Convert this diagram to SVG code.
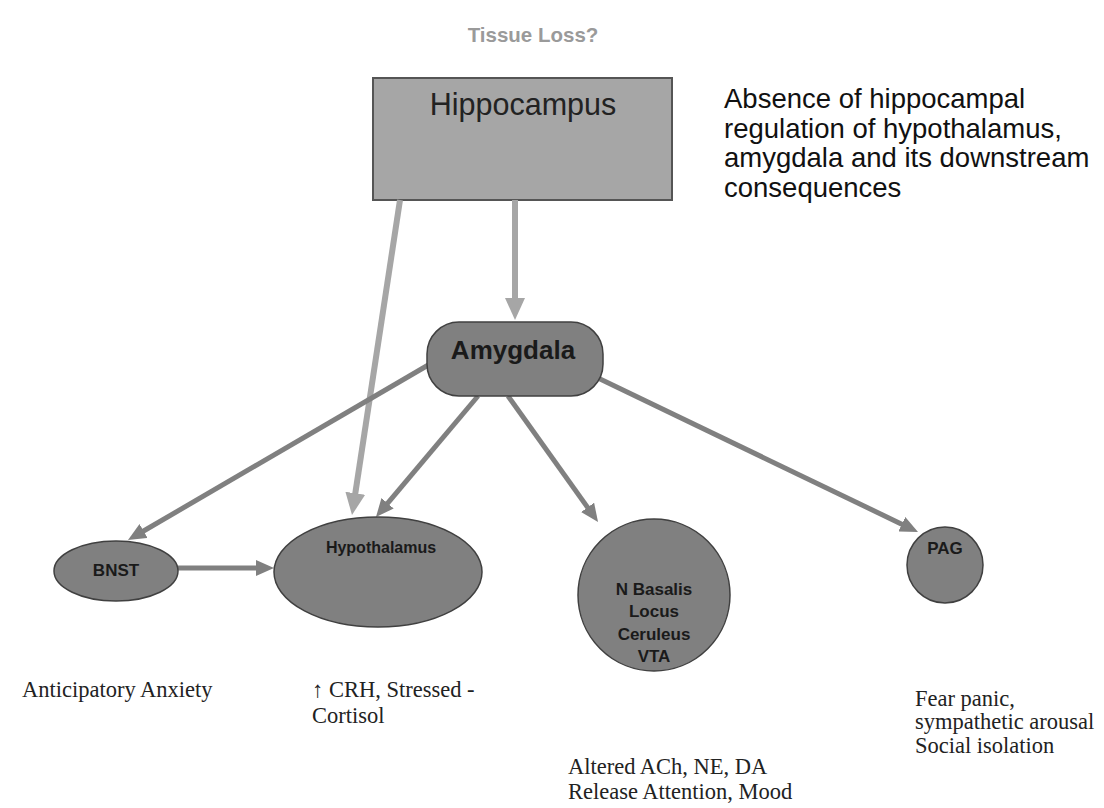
<svg xmlns="http://www.w3.org/2000/svg" width="1104" height="808" viewBox="0 0 1104 808">
<style>
.node{fill:#808080;stroke:#404040;stroke-width:1.5}
.lbl{font-family:"Liberation Sans",Arial,sans-serif;font-weight:bold;fill:#1a1a1a;text-anchor:middle}
.ser{font-family:"Liberation Serif","Times New Roman",serif;font-size:22.5px;fill:#222}
.dark{stroke:#808080;stroke-width:5;fill:none;marker-end:url(#ad)}
.light{stroke:#a6a6a6;stroke-width:6;fill:none;marker-end:url(#al)}
</style>
<defs>
<marker id="ad" markerUnits="userSpaceOnUse" markerWidth="18" markerHeight="16" refX="4" refY="8" orient="auto">
<path d="M0,0 L18,8 L0,16 z" fill="#808080"/>
</marker>
<marker id="al" markerUnits="userSpaceOnUse" markerWidth="22" markerHeight="20" refX="4" refY="10" orient="auto">
<path d="M0,0 L22,10 L0,20 z" fill="#a6a6a6"/>
</marker>
</defs>
<rect width="1104" height="808" fill="#fff"/>
<text x="533" y="42" font-family="Liberation Sans,Arial,sans-serif" font-weight="bold" font-size="20.5" fill="#9a9a9a" text-anchor="middle">Tissue Loss?</text>
<g id="hippocampus">
<rect x="373" y="78" width="299" height="122" fill="#a6a6a6" stroke="#555" stroke-width="2"/>
<text x="523" y="115" font-family="Liberation Sans,Arial,sans-serif" font-size="30.5" fill="#222" text-anchor="middle">Hippocampus</text>
</g>
<g id="note" font-family="Liberation Sans,Arial,sans-serif" font-size="27.5" fill="#111">
<text x="724" y="108">Absence of hippocampal</text>
<text x="724" y="138">regulation of hypothalamus,</text>
<text x="724" y="167">amygdala and its downstream</text>
<text x="724" y="197">consequences</text>
</g>
<g id="connectors">
<line class="light" x1="515" y1="200" x2="515" y2="302"/>
<line class="light" x1="400" y1="200" x2="354.7" y2="497.2"/>
<line class="dark" x1="430" y1="364" x2="140.1" y2="533"/>
<line class="dark" x1="478" y1="396" x2="385" y2="506.3"/>
<line class="dark" x1="508" y1="396" x2="589.9" y2="510.6"/>
<line class="dark" x1="598" y1="378" x2="905.4" y2="525.9"/>
<line class="dark" x1="178" y1="568" x2="260" y2="568"/>
</g>
<g id="amygdala">
<rect class="node" x="427" y="322" width="176" height="74" rx="32" ry="32"/>
<text class="lbl" x="513" y="359" font-size="26">Amygdala</text>
</g>
<g id="bnst">
<ellipse class="node" cx="116" cy="571" rx="62" ry="30"/>
<text class="lbl" x="116" y="576" font-size="17">BNST</text>
</g>
<g id="hypothalamus">
<ellipse class="node" cx="378" cy="572" rx="104" ry="55"/>
<text class="lbl" x="381" y="553" font-size="16">Hypothalamus</text>
</g>
<g id="nbasalis">
<circle class="node" cx="654" cy="595" r="76"/>
<text class="lbl" font-size="17"><tspan x="654" y="595">N Basalis</tspan><tspan x="654" y="617">Locus</tspan><tspan x="654" y="640">Ceruleus</tspan><tspan x="654" y="662">VTA</tspan></text>
</g>
<g id="pag">
<circle class="node" cx="945" cy="565" r="38"/>
<text class="lbl" x="945" y="554" font-size="17">PAG</text>
</g>
<g id="labels">
<text class="ser" x="22" y="697">Anticipatory Anxiety</text>
<text class="ser" x="312" y="697">↑ CRH, Stressed -</text>
<text class="ser" x="312" y="723">Cortisol</text>
<text class="ser" x="568" y="774">Altered ACh, NE, DA</text>
<text class="ser" x="568" y="799">Release Attention, Mood</text>
<text class="ser" x="915" y="706">Fear panic,</text>
<text class="ser" x="915" y="729">sympathetic arousal</text>
<text class="ser" x="915" y="753">Social isolation</text>
</g>
</svg>
